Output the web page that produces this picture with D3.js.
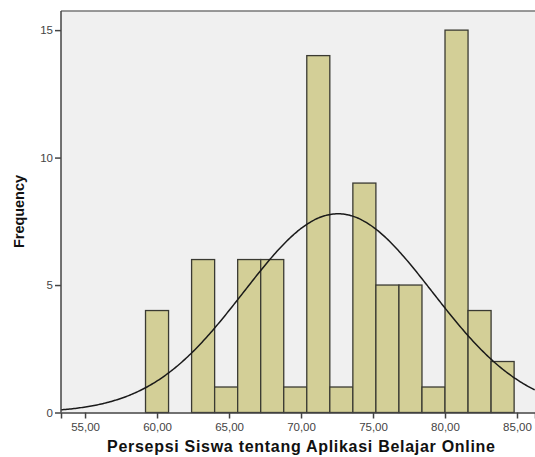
<!DOCTYPE html>
<html>
<head>
<meta charset="utf-8">
<script src="https://cdn.jsdelivr.net/npm/d3@7"></script>
<style>
  body { margin: 0; background: #fff; }
  svg { display: block; font-family: "Liberation Sans", Arial, sans-serif; }
</style>
</head>
<body>
<div id="chart"></div>
<script>
// histogram bins (lower edges) and counts
var binStart = 59.2,
    binWidth = 1.6;
var counts = [4, 0, 6, 1, 6, 6, 1, 14, 1, 9, 5, 5, 1, 15, 4, 2];
var xTicks = [55, 60, 65, 70, 75, 80, 85];
var yTicks = [0, 5, 10, 15];
// normal curve parameters
var mean = 72.57,
    stdDev = 6.55,
    total = 80;

var width = 535, height = 457,
    margin = { top: 11, right: 0, bottom: 44.5, left: 61 };

var svg = d3.select('#chart')
            .append('svg')
              .attr('width', width)
              .attr('height', height);

var x = d3.scaleLinear()
          .domain([53.33, 55 + (535 - 85) / 14.4])
          .range([margin.left, width - margin.right]);
var y = d3.scaleLinear()
          .domain([0, 15.75])
          .range([height - margin.bottom, margin.top]);

// plot background
svg.append('rect')
   .attr('x', margin.left)
   .attr('y', margin.top)
   .attr('width', width - margin.left - margin.right)
   .attr('height', height - margin.top - margin.bottom)
   .style('fill', '#f0f0f0');

var bins = counts.map(function(c, i) {
  return { x0: binStart + i * binWidth, x1: binStart + (i + 1) * binWidth, n: c };
}).filter(function(d) { return d.n > 0; });

svg.selectAll('.bar')
   .data(bins)
   .enter()
   .append('rect')
     .attr('class', 'bar')
     .attr('x', function(d) { return x(d.x0); })
     .attr('width', function(d) { return x(d.x1) - x(d.x0); })
     .attr('y', function(d) { return y(d.n); })
     .attr('height', function(d) { return y(0) - y(d.n); })
     .style('fill', '#d3cf97')
     .style('stroke', '#3a3a32')
     .style('stroke-width', 1.3);

// normal curve
var xs = d3.range(x.domain()[0], x.domain()[1], 0.1);
var line = d3.line()
             .x(function(d) { return x(d); })
             .y(function(d) {
               var z = (d - mean) / stdDev;
               return y(total * binWidth / (stdDev * Math.sqrt(2 * Math.PI)) * Math.exp(-0.5 * z * z));
             })
             .curve(d3.curveBasis);
svg.append('path')
   .datum(xs)
   .attr('d', line)
   .style('fill', 'none')
   .style('stroke', '#1a1a1a')
   .style('stroke-width', 1.5);

// frame lines
svg.append('line')
   .attr('x1', margin.left).attr('x2', width)
   .attr('y1', margin.top).attr('y2', margin.top)
   .style('stroke', '#777').style('stroke-width', 1.5);

var xAxis = svg.append('g')
               .attr('transform', 'translate(0,' + y(0) + ')')
               .call(d3.axisBottom(x).tickValues(xTicks).tickSizeOuter(0).tickSize(6).tickPadding(4)
                       .tickFormat(function(d) { return d3.format('.2f')(d).replace('.', ','); }));
var yAxis = svg.append('g')
               .attr('transform', 'translate(' + margin.left + ',0)')
               .call(d3.axisLeft(y).tickValues(yTicks).tickSizeOuter(0).tickSize(6).tickPadding(2));

[xAxis, yAxis].forEach(function(g) {
  g.select('.domain').style('stroke', '#444').style('stroke-width', 1.5);
  g.selectAll('.tick line').style('stroke', '#444').style('stroke-width', 1.5);
  g.selectAll('.tick text')
   .style('font-family', '"Liberation Sans", Arial, sans-serif')
   .style('font-size', '11.5px')
   .style('fill', '#444');
});
yAxis.select('.domain').attr('d', 'M0,' + margin.top + 'V' + y(0));

svg.append('text')
   .attr('x', 301)
   .attr('y', 452)
   .attr('text-anchor', 'middle')
   .attr('textLength', 388)
   .attr('lengthAdjust', 'spacing')
   .style('font-weight', 'bold')
   .style('font-size', '16px')
   .style('fill', '#111')
   .text('Persepsi Siswa tentang Aplikasi Belajar Online');

svg.append('text')
   .attr('transform', 'translate(24,211.5) rotate(-90)')
   .attr('text-anchor', 'middle')
   .attr('textLength', 73)
   .attr('lengthAdjust', 'spacing')
   .style('font-weight', 'bold')
   .style('font-size', '14.5px')
   .style('fill', '#111')
   .text('Frequency');
</script>
</body>
</html>
